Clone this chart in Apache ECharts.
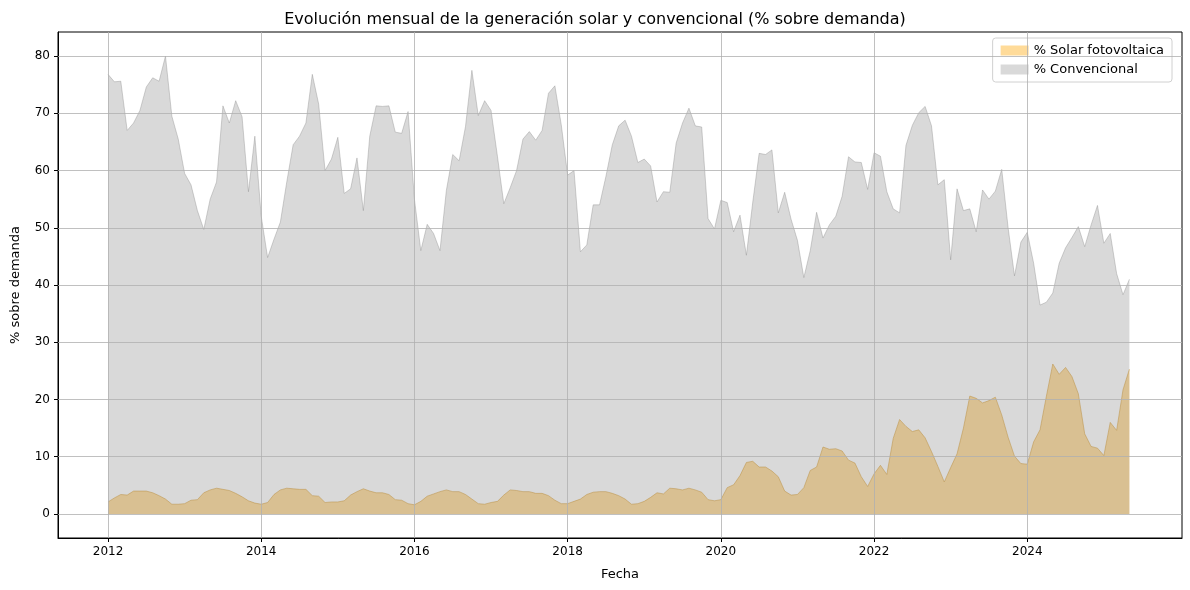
<!DOCTYPE html>
<html>
<head>
<meta charset="utf-8">
<script src="https://cdn.jsdelivr.net/npm/echarts@6/dist/echarts.min.js"></script>
<style>html,body{margin:0;padding:0;background:#fff}#c{width:1190px;height:590px}</style>
</head>
<body>
<div id="c"></div>
<script>
// datos mensuales desde 2012-01
var startYear = 2012
var solar = [
  2.1,2.8,3.4,3.3,4,4,4,3.7,3.2,2.6,1.7,1.7,
  1.8,2.4,2.5,3.7,4.2,4.5,4.3,4.1,3.6,3,2.3,1.9,
  1.7,2,3.4,4.2,4.5,4.4,4.3,4.3,3.2,3.1,2,2.1,
  2.1,2.3,3.3,3.9,4.4,4,3.7,3.7,3.4,2.5,2.4,1.8,
  1.6,2.2,3.1,3.5,3.9,4.2,3.9,3.9,3.4,2.6,1.8,1.7,
  2,2.2,3.3,4.2,4.1,3.9,3.9,3.6,3.6,3.2,2.4,1.8,
  1.8,2.2,2.6,3.4,3.8,3.9,3.9,3.6,3.2,2.6,1.7,1.8,
  2.2,2.9,3.7,3.5,4.5,4.4,4.2,4.5,4.2,3.8,2.5,2.3,
  2.5,4.6,5.1,6.7,9,9.2,8.2,8.2,7.5,6.5,4,3.3,
  3.4,4.6,7.6,8.2,11.7,11.3,11.4,11,9.4,8.9,6.5,4.8,
  7,8.5,6.9,13.2,16.5,15.3,14.4,14.7,13.3,10.9,8.3,5.6,
  8.1,10.5,15,20.6,20.2,19.4,19.8,20.4,17.3,13.4,10.1,8.8,
  8.7,12.6,14.7,20.6,26.2,24.4,25.6,24,21,14,11.8,11.5,
  10.2,16,14.6,21.7,25.3
]
var convencional = [
  76.8,75.5,75.6,67,68.3,70.5,74.6,76.2,75.6,80,69.5,65.5,
  59.5,57.5,53,49.7,55,58,71.3,68.3,72.2,69.4,56.3,66,
  52,44.8,48,51,58,64.5,66,68.3,76.8,71.6,60,62,
  65.8,56,56.8,62.2,53,66,71.3,71.2,71.3,66.7,66.5,70.3,
  55,46,50.6,49,46,56.5,62.8,61.7,67.7,77.5,69.6,72.2,
  70.5,62.5,54.2,57,60,65.5,66.8,65.3,67,73.5,74.8,68,
  59.2,60,45.8,47,54,54,59,64.5,67.8,68.8,66,61.4,
  62,60.8,54.5,56.3,56.2,64.8,68.3,70.9,67.8,67.6,51.6,49.8,
  54.8,54.4,49.3,52.2,45.2,54.5,63,62.8,63.6,52.6,56.2,51.5,
  47.8,41.3,46,52.7,48.2,50.5,52,55.5,62.4,61.5,61.4,56.7,
  63.1,62.5,56.3,53.3,52.6,64.4,67.9,70.1,71.2,67.8,57.5,58.4,
  44.4,56.8,53,53.3,49.3,56.6,55,56.4,60.2,50,41.6,47.5,
  49.2,43.8,36.5,37,38.6,43.8,46.5,48.3,50.2,46.7,50.5,53.9,
  47.3,49,42,38.3,41
]
var xTicks = [2012, 2014, 2016, 2018, 2020, 2022, 2024]
var yTicks = [0, 10, 20, 30, 40, 50, 60, 70, 80]

function pts(arr) {
  return arr.map(function (v, i) { return [startYear + i / 12, v] })
}

var gridColor = '#b0b0b0'
var gridLines = xTicks.map(function (t) { return { xAxis: t } })
  .concat(yTicks.map(function (t) { return { yAxis: t } }))

var chart = echarts.init(document.getElementById('c'))
chart.setOption({
  animation: false,
  textStyle: { fontFamily: 'DejaVu Sans' },
  title: {
    text: 'Evolución mensual de la generación solar y convencional (% sobre demanda)',
    left: 'center', top: 7,
    textStyle: { fontSize: 16, fontWeight: 'normal', color: '#000' }
  },
  legend: {
    right: 18, top: 38, orient: 'vertical', itemGap: 6,
    itemWidth: 28, itemHeight: 10, icon: 'rect',
    borderColor: '#d0d0d0', borderWidth: 1, borderRadius: 3, padding: [6, 8],
    textStyle: { fontSize: 13, color: '#000' },
    data: ['% Solar fotovoltaica', '% Convencional']
  },
  grid: { left: 58, right: 8, top: 32, bottom: 52, show: true, borderColor: '#000', borderWidth: 1, backgroundColor: 'transparent' },
  xAxis: {
    type: 'value', min: 2011.347, max: 2026.02,
    name: 'Fecha', nameLocation: 'middle', nameGap: 30,
    nameTextStyle: { fontSize: 13, color: '#000' },
    axisLine: { onZero: false, lineStyle: { color: '#000' } },
    axisTick: { customValues: xTicks, length: 4, lineStyle: { color: '#000' } },
    axisLabel: { customValues: xTicks, fontSize: 12, color: '#000', margin: 8, formatter: function (v) { return String(Math.round(v)) } },
    splitLine: { show: false }
  },
  yAxis: {
    type: 'value', min: -4.2, max: 84.2,
    name: '% sobre demanda', nameLocation: 'middle', nameGap: 36,
    nameTextStyle: { fontSize: 13, color: '#000' },
    axisLine: { show: true, lineStyle: { color: '#000' } },
    axisTick: { show: true, customValues: yTicks, length: 4, lineStyle: { color: '#000' } },
    axisLabel: { customValues: yTicks, fontSize: 12, color: '#000' },
    splitLine: { show: false }
  },
  series: [
    {
      name: '% Solar fotovoltaica', type: 'line', data: pts(solar),
      symbol: 'none', z: 2,
      itemStyle: { color: 'rgba(255,165,0,0.4)', borderColor: 'rgba(255,165,0,0.6)' },
      lineStyle: { color: 'rgba(210,150,40,0.5)', width: 1 },
      areaStyle: { color: 'rgba(255,165,0,0.4)', opacity: 1 },
      markLine: {
        silent: true, symbol: 'none', label: { show: false },
        lineStyle: { color: gridColor, type: 'solid', width: 0.8 },
        data: gridLines
      }
    },
    {
      name: '% Convencional', type: 'line', data: pts(convencional),
      symbol: 'none', z: 3,
      itemStyle: { color: 'rgba(128,128,128,0.3)', borderColor: 'rgba(128,128,128,0.5)' },
      lineStyle: { color: 'rgba(128,128,128,0.35)', width: 1 },
      areaStyle: { color: 'rgba(128,128,128,0.3)', opacity: 1 }
    }
  ]
})
</script>
</body>
</html>
